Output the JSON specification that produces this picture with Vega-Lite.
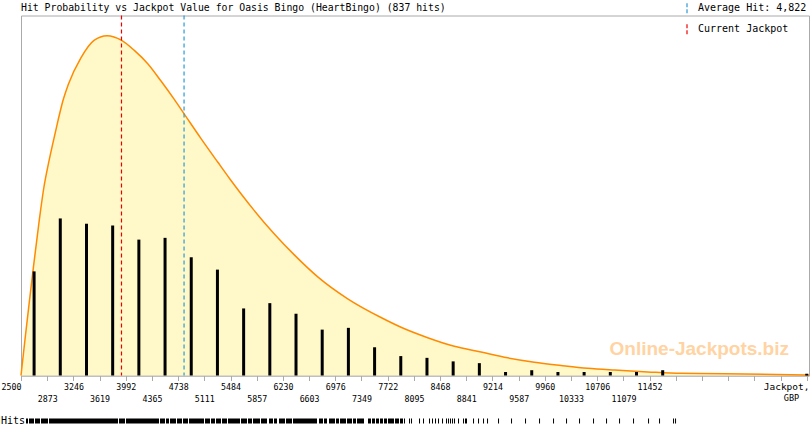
{
  "$schema": "https://vega.github.io/schema/vega-lite/v6.json",
  "background": "white",
  "padding": {"top": 1.5, "left": 0, "right": 0, "bottom": 0},
  "config": {
    "font": "DejaVu Sans Mono",
    "view": {"stroke": null},
    "axis": {"labelFont": "DejaVu Sans Mono", "titleFont": "DejaVu Sans Mono", "labelColor": "black", "titleColor": "black"}
  },
  "datasets": {
    "curve": [
      {"jackpot": 2500, "density": 0},
      {"jackpot": 2557, "density": 0.1},
      {"jackpot": 2614, "density": 0.197},
      {"jackpot": 2685, "density": 0.314},
      {"jackpot": 2756, "density": 0.425},
      {"jackpot": 2828, "density": 0.525},
      {"jackpot": 2885, "density": 0.583},
      {"jackpot": 2956, "density": 0.647},
      {"jackpot": 3027, "density": 0.708},
      {"jackpot": 3098, "density": 0.764},
      {"jackpot": 3169, "density": 0.806},
      {"jackpot": 3355, "density": 0.883},
      {"jackpot": 3540, "density": 0.931},
      {"jackpot": 3725, "density": 0.944},
      {"jackpot": 3934, "density": 0.931},
      {"jackpot": 4114, "density": 0.903},
      {"jackpot": 4305, "density": 0.866},
      {"jackpot": 4494, "density": 0.818},
      {"jackpot": 4683, "density": 0.767},
      {"jackpot": 4840, "density": 0.722},
      {"jackpot": 5064, "density": 0.658},
      {"jackpot": 5301, "density": 0.593},
      {"jackpot": 5467, "density": 0.548},
      {"jackpot": 5633, "density": 0.505},
      {"jackpot": 5823, "density": 0.458},
      {"jackpot": 6108, "density": 0.393},
      {"jackpot": 6392, "density": 0.335},
      {"jackpot": 6726, "density": 0.274},
      {"jackpot": 7153, "density": 0.213},
      {"jackpot": 7627, "density": 0.161},
      {"jackpot": 7912, "density": 0.134},
      {"jackpot": 8292, "density": 0.105},
      {"jackpot": 8671, "density": 0.081},
      {"jackpot": 9051, "density": 0.065},
      {"jackpot": 9432, "density": 0.049},
      {"jackpot": 9811, "density": 0.037},
      {"jackpot": 10191, "density": 0.028},
      {"jackpot": 10571, "density": 0.02},
      {"jackpot": 10950, "density": 0.015},
      {"jackpot": 11425, "density": 0.01},
      {"jackpot": 11900, "density": 0.006},
      {"jackpot": 12516, "density": 0.005},
      {"jackpot": 13466, "density": 0.002},
      {"jackpot": 13722, "density": 0.001}
    ],
    "hits": [
      {"jackpot": 2686.5, "hits": 59},
      {"jackpot": 3059.5, "hits": 89},
      {"jackpot": 3432.5, "hits": 86},
      {"jackpot": 3805.5, "hits": 85},
      {"jackpot": 4178.5, "hits": 77},
      {"jackpot": 4551.5, "hits": 78},
      {"jackpot": 4924.5, "hits": 67},
      {"jackpot": 5297.5, "hits": 60},
      {"jackpot": 5670.5, "hits": 38},
      {"jackpot": 6043.5, "hits": 41},
      {"jackpot": 6416.5, "hits": 35},
      {"jackpot": 6789.5, "hits": 26},
      {"jackpot": 7162.5, "hits": 27},
      {"jackpot": 7535.5, "hits": 16},
      {"jackpot": 7908.5, "hits": 11},
      {"jackpot": 8281.5, "hits": 10},
      {"jackpot": 8654.5, "hits": 8},
      {"jackpot": 9027.5, "hits": 7},
      {"jackpot": 9400.5, "hits": 2},
      {"jackpot": 9773.5, "hits": 3},
      {"jackpot": 10146.5, "hits": 2},
      {"jackpot": 10519.5, "hits": 2},
      {"jackpot": 10892.5, "hits": 2},
      {"jackpot": 11265.5, "hits": 2},
      {"jackpot": 11638.5, "hits": 3},
      {"jackpot": 13690, "hits": 1}
    ],
    "lines": [
      {"label": "Average Hit: 4,822", "jackpot": 4822},
      {"label": "Current Jackpot", "jackpot": 3931}
    ],
    "rug": [
      {"lo": 2571.2, "hi": 2599.7},
      {"lo": 2613.9, "hi": 2685.1},
      {"lo": 2699.4, "hi": 2770.6},
      {"lo": 2784.8, "hi": 2884.5},
      {"lo": 2898.8, "hi": 3881.5},
      {"lo": 3895.7, "hi": 3981.2},
      {"lo": 3995.4, "hi": 4465.4},
      {"lo": 4479.6, "hi": 4550.8},
      {"lo": 4565.1, "hi": 4607.8},
      {"lo": 4622.1, "hi": 4707.5},
      {"lo": 4721.8, "hi": 4793.0},
      {"lo": 4807.2, "hi": 4878.4},
      {"lo": 4892.7, "hi": 5106.3},
      {"lo": 5120.5, "hi": 5191.7},
      {"lo": 5206.0, "hi": 5262.9},
      {"lo": 5277.2, "hi": 5348.4},
      {"lo": 5362.6, "hi": 5433.9},
      {"lo": 5448.1, "hi": 5619.0},
      {"lo": 5633.2, "hi": 5718.7},
      {"lo": 5732.9, "hi": 5789.9},
      {"lo": 5804.1, "hi": 5903.8},
      {"lo": 5918.1, "hi": 6003.5},
      {"lo": 6032.0, "hi": 6089.0},
      {"lo": 6103.2, "hi": 6145.9},
      {"lo": 6174.4, "hi": 6259.6},
      {"lo": 6274.1, "hi": 6359.6},
      {"lo": 6373.8, "hi": 6715.6},
      {"lo": 6744.1, "hi": 6801.1},
      {"lo": 6815.3, "hi": 6858.0},
      {"lo": 6886.5, "hi": 6971.9},
      {"lo": 6986.2, "hi": 7028.9},
      {"lo": 7043.2, "hi": 7128.6},
      {"lo": 7142.9, "hi": 7214.0},
      {"lo": 7228.3, "hi": 7271.0},
      {"lo": 7285.3, "hi": 7385.0},
      {"lo": 7441.9, "hi": 7484.7},
      {"lo": 7498.9, "hi": 7541.6},
      {"lo": 7555.9, "hi": 7598.6},
      {"lo": 7612.9, "hi": 7655.6},
      {"lo": 7669.8, "hi": 7712.5},
      {"lo": 7726.8, "hi": 7812.2},
      {"lo": 7826.5, "hi": 7883.4},
      {"lo": 7897.7, "hi": 7940.4},
      {"lo": 7954.6, "hi": 7968.8},
      {"lo": 8025.9, "hi": 8040.1},
      {"lo": 8054.3, "hi": 8068.5},
      {"lo": 8168.3, "hi": 8182.5},
      {"lo": 8225.2, "hi": 8239.4},
      {"lo": 8310.7, "hi": 8324.9},
      {"lo": 8353.4, "hi": 8367.6},
      {"lo": 8396.2, "hi": 8410.4},
      {"lo": 8438.9, "hi": 8453.1},
      {"lo": 8495.9, "hi": 8510.1},
      {"lo": 8552.8, "hi": 8567.0},
      {"lo": 8581.3, "hi": 8595.5},
      {"lo": 8609.8, "hi": 8624.0},
      {"lo": 8638.3, "hi": 8652.5},
      {"lo": 8666.8, "hi": 8681.0},
      {"lo": 8723.7, "hi": 8737.9},
      {"lo": 8794.9, "hi": 8809.1},
      {"lo": 8823.4, "hi": 8851.9},
      {"lo": 8937.4, "hi": 8951.6},
      {"lo": 9008.6, "hi": 9022.8},
      {"lo": 9079.8, "hi": 9094.0},
      {"lo": 9136.8, "hi": 9151.0},
      {"lo": 9293.5, "hi": 9307.7},
      {"lo": 9478.6, "hi": 9492.8},
      {"lo": 9678.0, "hi": 9692.2},
      {"lo": 9877.4, "hi": 9891.6},
      {"lo": 10076.8, "hi": 10091.0},
      {"lo": 10261.9, "hi": 10276.1},
      {"lo": 10447.0, "hi": 10461.2},
      {"lo": 10646.4, "hi": 10660.6},
      {"lo": 10831.6, "hi": 10845.8},
      {"lo": 11016.8, "hi": 11031.0},
      {"lo": 11216.1, "hi": 11230.3},
      {"lo": 11429.8, "hi": 11444.0},
      {"lo": 11586.4, "hi": 11600.6},
      {"lo": 11785.8, "hi": 11800.0},
      {"lo": 11814.3, "hi": 11828.5}
    ]
  },
  "bounds": "flush",
  "spacing": 43,
  "vconcat": [
    {
      "title": {
        "text": "Hit Probability vs Jackpot Value for Oasis Bingo (HeartBingo) (837 hits)",
        "anchor": "start",
        "frame": "group",
        "font": "DejaVu Sans Mono",
        "fontSize": 9.8,
        "fontWeight": "normal",
        "color": "black",
        "offset": 2.5
      },
      "width": 788,
      "height": 360,
      "view": {"stroke": "#aaaaaa"},
      "resolve": {"scale": {"y": "independent"}, "axis": {"x": "independent"}},
      "layer": [
        {
          "data": {"name": "curve"},
          "mark": {
            "type": "area",
            "interpolate": "monotone",
            "color": "#fff8c8",
            "opacity": 1,
            "line": {"color": "#ff8a00", "strokeWidth": 1.5}
          },
          "encoding": {
            "x": {
              "field": "jackpot",
              "type": "quantitative",
              "scale": {"domain": [2500, 13722], "nice": false, "zero": false, "padding": 0},
              "axis": {
                "orient": "bottom",
                "values": [2500, 2873, 3246, 3619, 3992, 4365, 4738, 5111, 5484, 5857, 6230, 6603, 6976, 7349, 7722, 8095, 8468, 8841, 9214, 9587, 9960, 10333, 10706, 11079, 11452, 11825, 12198, 12571, 12944, 13317, 13690],
                "format": "d",
                "labelExpr": "(datum.value - 2500) % 746 == 0 && datum.value <= 11452 ? datum.label : ''",
                "labelAlign": {"condition": {"test": "datum.value == 2500", "value": "right"}, "value": "center"},
                "labelFontSize": 8.3,
                "labelPadding": 2,
                "labelFlush": false,
                "labelOverlap": false,
                "labelBound": false,
                "tickSize": 5,
                "tickColor": "#aaaaaa",
                "domainColor": "#aaaaaa",
                "grid": false,
                "title": "Jackpot,",
                "titleFontSize": 9.5,
                "titleFontWeight": "normal",
                "titleAnchor": "end",
                "titleAlign": "right",
                "titleBaseline": "top",
                "titleX": 788,
                "titleY": 6
              }
            },
            "y": {
              "field": "density",
              "type": "quantitative",
              "scale": {"domain": [0, 1], "nice": false},
              "axis": null
            }
          }
        },
        {
          "data": {"values": [{"text": "Online-Jackpots.biz"}]},
          "mark": {
            "type": "text",
            "font": "Liberation Sans",
            "fontWeight": "bold",
            "fontSize": 19,
            "color": "#ffd3a2"
          },
          "encoding": {
            "x": {"datum": 12159, "type": "quantitative", "axis": null},
            "y": {"datum": 0.075, "type": "quantitative", "scale": {"domain": [0, 1], "nice": false}, "axis": null},
            "text": {"field": "text"}
          }
        },
        {
          "data": {"name": "hits"},
          "mark": {"type": "bar", "width": 3, "color": "black"},
          "encoding": {
            "x": {
              "field": "jackpot",
              "type": "quantitative",
              "scale": {"padding": 0},
              "axis": {
                "orient": "bottom",
                "values": [2873, 3619, 4365, 5111, 5857, 6603, 7349, 8095, 8841, 9587, 10333, 11079],
                "format": "d",
                "ticks": false,
                "tickSize": 0,
                "domain": false,
                "grid": false,
                "labelFontSize": 8.3,
                "labelPadding": 19,
                "labelFlush": false,
                "labelOverlap": false,
                "labelBound": false,
                "title": "GBP",
                "titleFontSize": 8.5,
                "titleFontWeight": "normal",
                "titleAlign": "center",
                "titleAnchor": "end",
                "titleBaseline": "top",
                "titleX": 770,
                "titleY": 18
              }
            },
            "y": {
              "field": "hits",
              "type": "quantitative",
              "scale": {"domain": [0, 204], "nice": false},
              "axis": null
            }
          }
        },
        {
          "data": {"name": "lines"},
          "mark": {"type": "rule", "strokeDash": [4, 3], "strokeWidth": 1.2},
          "encoding": {
            "x": {"field": "jackpot", "type": "quantitative", "axis": null},
            "color": {
              "field": "label",
              "type": "nominal",
              "scale": {"domain": ["Average Hit: 4,822", "Current Jackpot"], "range": ["#2b9ad6", "#ee0000"]},
              "legend": {
                "title": null,
                "orient": "none",
                "legendX": 660,
                "legendY": -13.3,
                "padding": 0,
                "symbolType": "M0,-1L0,1",
                "symbolSize": 100,
                "symbolStrokeWidth": 1.2,
                "symbolDash": [4, 2],
                "labelFont": "DejaVu Sans Mono",
                "labelFontSize": 10,
                "labelColor": "black",
                "labelOffset": 5,
                "rowPadding": 5
              }
            }
          }
        }
      ]
    },
    {
      "width": 788,
      "height": 5,
      "layer": [
        {
          "data": {"name": "rug"},
          "mark": {"type": "rect", "color": "black"},
          "encoding": {
            "x": {
              "field": "lo",
              "type": "quantitative",
              "scale": {"domain": [2500, 13722], "nice": false, "zero": false, "padding": 0},
              "axis": null
            },
            "x2": {"field": "hi"}
          }
        },
        {
          "data": {"values": [{"t": "Hits"}]},
          "mark": {"type": "text", "align": "left", "baseline": "middle", "dx": -20, "fontSize": 10, "color": "black"},
          "encoding": {
            "x": {"datum": 2500, "type": "quantitative"},
            "text": {"field": "t"}
          }
        }
      ]
    }
  ]
}
